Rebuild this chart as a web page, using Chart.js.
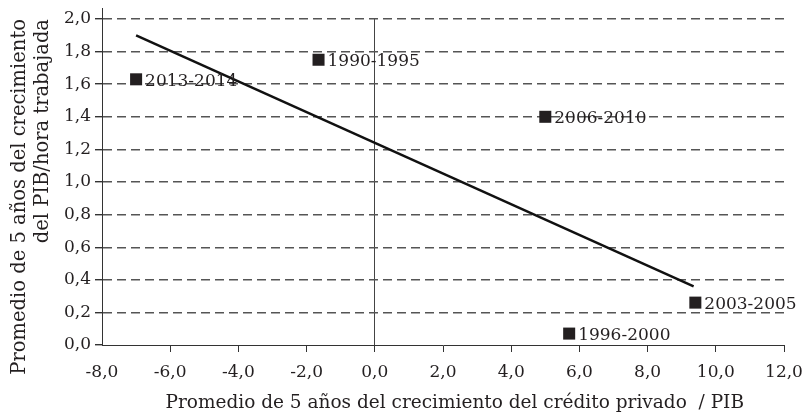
<!DOCTYPE html>
<html>
<head>
<meta charset="utf-8">
<title>Crédito privado vs productividad</title>
<script src="https://cdn.jsdelivr.net/npm/chart.js@4.4.1/dist/chart.umd.min.js"></script>
<style>
  html, body { margin: 0; padding: 0; background: #fff; }
  #wrap { width: 805px; height: 417px; }
</style>
</head>
<body>
<div id="wrap"><canvas id="chart"></canvas></div>
<script>
// Data
const periods = ['2013-2014', '1990-1995', '2006-2010', '2003-2005', '1996-2000'];
const creditGrowth = [-7.0, -1.65, 5.0, 9.4, 5.7];
const productivityGrowth = [1.63, 1.75, 1.40, 0.26, 0.07];

// Trend line end points
const trendX = [-7.0, 9.35];
const trendY = [1.90, 0.36];

const xTickValues = [-8, -6, -4, -2, 0, 2, 4, 6, 8, 10, 12];
const yTickValues = [0, 0.2, 0.4, 0.6, 0.8, 1.0, 1.2, 1.4, 1.6, 1.8, 2.0];

// leading spaces nudge the centred title a bit right, as in the source
const xTitle = '    Promedio de 5 años del crecimiento del crédito privado  / PIB';
const yTitle = ['Promedio de 5 años del crecimiento', 'del PIB/hora trabajada'];

const FONT = '"DejaVu Serif", "Liberation Serif", serif';
const INK = '#231f20';

const fmt = v => Number(v).toFixed(1).replace('.', ',');

// Period labels next to each marker, plus the y axis stub above 2,0
const pointLabels = {
  id: 'pointLabels',
  afterDatasetsDraw(chart) {
    const ctx = chart.ctx;
    const meta = chart.getDatasetMeta(1);
    ctx.save();
    ctx.font = '17px ' + FONT;
    ctx.fillStyle = INK;
    ctx.textBaseline = 'middle';
    ctx.textAlign = 'left';
    meta.data.forEach((pt, i) => {
      ctx.fillText(periods[i], pt.x + 9, pt.y + 2);
    });
    // axis line continues a little above the top gridline
    const area = chart.chartArea;
    ctx.strokeStyle = '#333';
    ctx.lineWidth = 1;
    ctx.beginPath();
    ctx.moveTo(area.left + 0.5, area.top - 11);
    ctx.lineTo(area.left + 0.5, area.top);
    ctx.stroke();
    ctx.restore();
  }
};

new Chart(document.getElementById('chart'), {
  type: 'scatter',
  data: {
    datasets: [
      {
        type: 'line',
        label: 'Tendencia',
        data: trendX.map((x, i) => ({ x: x, y: trendY[i] })),
        borderColor: '#111',
        borderWidth: 2.5,
        pointRadius: 0,
        fill: false
      },
      {
        label: 'Periodos',
        data: creditGrowth.map((x, i) => ({ x: x, y: productivityGrowth[i] })),
        pointStyle: 'rect',
        pointRadius: 8.5,
        backgroundColor: INK,
        borderColor: INK,
        borderWidth: 0
      }
    ]
  },
  options: {
    responsive: true,
    maintainAspectRatio: false,
    animation: false,
    layout: { padding: { top: 19, right: 21, left: 0, bottom: 0 } },
    plugins: {
      legend: { display: false },
      tooltip: { enabled: false }
    },
    scales: {
      x: {
        type: 'linear',
        min: -8,
        max: 12,
        afterBuildTicks: scale => { scale.ticks = xTickValues.map(v => ({ value: v })); },
        afterFit: scale => {
          scale.height = 72;
          scale.paddingLeft = 0;
          scale.paddingRight = 0;
        },
        ticks: {
          callback: v => fmt(v),
          color: INK,
          font: { family: FONT, size: 17 },
          padding: 10,
          maxRotation: 0
        },
        grid: {
          color: c => (c.tick && c.tick.value === 0) ? '#444' : 'rgba(0,0,0,0)',
          tickColor: c => (c.tick && c.tick.value === -8) ? 'rgba(0,0,0,0)' : '#333',
          tickLength: 7,
          lineWidth: 1
        },
        border: { color: '#333', width: 1 },
        title: {
          display: true,
          text: xTitle,
          color: INK,
          font: { family: FONT, size: 18.5 },
          padding: { top: 2, bottom: 3 }
        }
      },
      y: {
        type: 'linear',
        min: 0,
        max: 2.0,
        afterBuildTicks: scale => { scale.ticks = yTickValues.map(v => ({ value: v })); },
        afterFit: scale => {
          scale.width = 102;
          scale.paddingTop = 0;
          scale.paddingBottom = 0;
        },
        ticks: {
          callback: v => fmt(v),
          color: INK,
          font: { family: FONT, size: 17 },
          padding: 4
        },
        grid: {
          color: c => (c.tick && c.tick.value === 0) ? 'rgba(0,0,0,0)' : '#555',
          tickColor: '#333',
          tickLength: 7,
          lineWidth: 1.4
        },
        border: { color: '#333', width: 1, dash: [9, 5] },
        title: {
          display: true,
          text: yTitle,
          align: 'end',
          color: INK,
          font: { family: FONT, size: 19.5, lineHeight: 1.18 },
          padding: { top: 8, bottom: 0 }
        }
      }
    }
  },
  plugins: [pointLabels]
});
</script>
</body>
</html>
